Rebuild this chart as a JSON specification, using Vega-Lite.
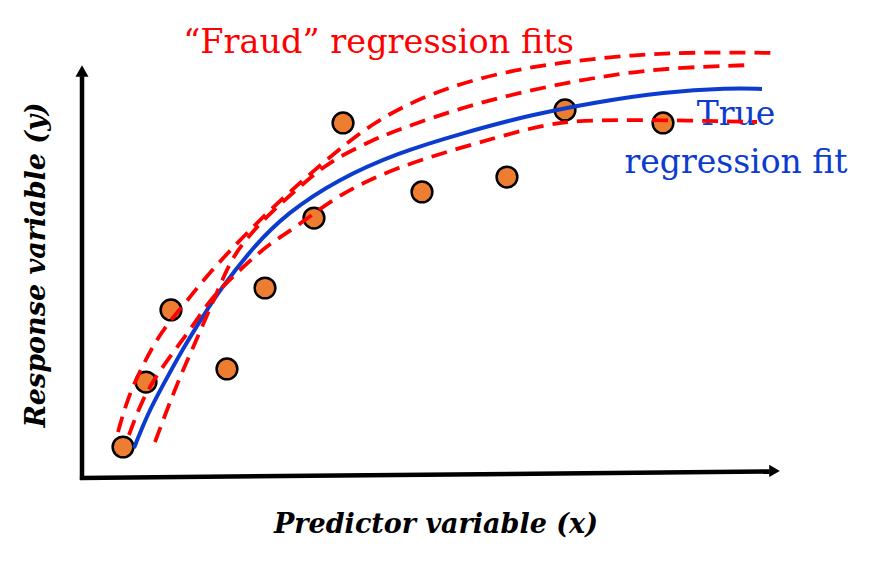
{
  "$schema": "https://vega.github.io/schema/vega-lite/v6.json",
  "width": 875,
  "height": 566,
  "autosize": {"type": "fit", "contains": "padding"},
  "padding": 0,
  "background": "white",
  "config": {"view": {"stroke": null}},
  "datasets": {
    "axes": [
      {"x": 0, "y": -0.05, "x2": 0, "y2": 9.8},
      {"x": -0.03, "y": 0, "x2": 9.82, "y2": 0.16}
    ],
    "arrows": [
      {"dir": "up", "x": 0, "y": 9.927},
      {"dir": "right", "x": 9.893, "y": 0.171}
    ],
    "points": [
      {"x": 0.586, "y": 0.756},
      {"x": 0.914, "y": 2.341},
      {"x": 1.271, "y": 4.098},
      {"x": 2.071, "y": 2.659},
      {"x": 2.614, "y": 4.634},
      {"x": 3.314, "y": 6.341},
      {"x": 3.729, "y": 8.659},
      {"x": 4.857, "y": 6.976},
      {"x": 6.071, "y": 7.341},
      {"x": 6.9, "y": 8.976},
      {"x": 8.3, "y": 8.659}
    ],
    "truefit": [
      {"x": 0.743, "y": 0.732},
      {"x": 0.943, "y": 1.585},
      {"x": 1.143, "y": 2.22},
      {"x": 1.429, "y": 3.122},
      {"x": 1.757, "y": 4.024},
      {"x": 1.971, "y": 4.585},
      {"x": 2.443, "y": 5.634},
      {"x": 2.929, "y": 6.463},
      {"x": 3.643, "y": 7.27},
      {"x": 4.5, "y": 7.927},
      {"x": 5.443, "y": 8.415},
      {"x": 6.4, "y": 8.854},
      {"x": 7.357, "y": 9.171},
      {"x": 8.3, "y": 9.415},
      {"x": 9.257, "y": 9.512},
      {"x": 9.714, "y": 9.488}
    ],
    "fraud": [
      {"fit": "A", "x": 0.514, "y": 1.122},
      {"fit": "A", "x": 0.657, "y": 1.976},
      {"fit": "A", "x": 0.857, "y": 2.707},
      {"fit": "A", "x": 1.043, "y": 3.317},
      {"fit": "A", "x": 1.286, "y": 3.902},
      {"fit": "A", "x": 1.514, "y": 4.341},
      {"fit": "A", "x": 1.729, "y": 4.829},
      {"fit": "A", "x": 2.214, "y": 5.732},
      {"fit": "A", "x": 2.686, "y": 6.537},
      {"fit": "A", "x": 3.157, "y": 7.268},
      {"fit": "A", "x": 3.543, "y": 7.829},
      {"fit": "A", "x": 4.157, "y": 8.683},
      {"fit": "A", "x": 4.971, "y": 9.39},
      {"fit": "A", "x": 5.929, "y": 9.878},
      {"fit": "A", "x": 6.871, "y": 10.146},
      {"fit": "A", "x": 7.829, "y": 10.317},
      {"fit": "A", "x": 8.786, "y": 10.39},
      {"fit": "A", "x": 9.943, "y": 10.366},
      {"fit": "B", "x": 1.043, "y": 0.878},
      {"fit": "B", "x": 1.229, "y": 1.732},
      {"fit": "B", "x": 1.4, "y": 2.463},
      {"fit": "B", "x": 1.571, "y": 3.122},
      {"fit": "B", "x": 1.757, "y": 3.854},
      {"fit": "B", "x": 1.943, "y": 4.585},
      {"fit": "B", "x": 2.114, "y": 5.268},
      {"fit": "B", "x": 2.329, "y": 5.805},
      {"fit": "B", "x": 2.686, "y": 6.463},
      {"fit": "B", "x": 3.157, "y": 7.171},
      {"fit": "B", "x": 3.543, "y": 7.732},
      {"fit": "B", "x": 4.157, "y": 8.244},
      {"fit": "B", "x": 4.5, "y": 8.488},
      {"fit": "B", "x": 5.443, "y": 9.049},
      {"fit": "B", "x": 6.4, "y": 9.463},
      {"fit": "B", "x": 7.357, "y": 9.78},
      {"fit": "B", "x": 8.3, "y": 10.0},
      {"fit": "B", "x": 9.571, "y": 10.073},
      {"fit": "C", "x": 0.671, "y": 1.049},
      {"fit": "C", "x": 0.857, "y": 1.902},
      {"fit": "C", "x": 1.086, "y": 2.561},
      {"fit": "C", "x": 1.329, "y": 3.122},
      {"fit": "C", "x": 1.571, "y": 3.683},
      {"fit": "C", "x": 1.8, "y": 4.268},
      {"fit": "C", "x": 2.0, "y": 4.659},
      {"fit": "C", "x": 2.3, "y": 5.146},
      {"fit": "C", "x": 2.686, "y": 5.732},
      {"fit": "C", "x": 3.071, "y": 6.122},
      {"fit": "C", "x": 3.643, "y": 6.902},
      {"fit": "C", "x": 4.5, "y": 7.585},
      {"fit": "C", "x": 5.443, "y": 8.073},
      {"fit": "C", "x": 6.4, "y": 8.537},
      {"fit": "C", "x": 6.871, "y": 8.683},
      {"fit": "C", "x": 7.357, "y": 8.732},
      {"fit": "C", "x": 8.3, "y": 8.732},
      {"fit": "C", "x": 9.643, "y": 8.683}
    ]
  },
  "encoding": {
    "x": {"field": "x", "type": "quantitative", "axis": null, "scale": {"domain": [-1.171429, 11.328571], "nice": false, "zero": false}},
    "y": {"field": "y", "type": "quantitative", "axis": null, "scale": {"domain": [-2.146341, 11.658537], "nice": false, "zero": false}}
  },
  "layer": [
    {
      "data": {"name": "axes"},
      "mark": {"type": "rule", "color": "black", "strokeWidth": 4.5},
      "encoding": {
        "x2": {"field": "x2"},
        "y2": {"field": "y2"}
      }
    },
    {
      "data": {"name": "arrows"},
      "transform": [{"filter": "datum.dir === 'up'"}],
      "mark": {"type": "point", "shape": "triangle-up", "filled": true, "color": "black", "opacity": 1, "size": 170}
    },
    {
      "data": {"name": "arrows"},
      "transform": [{"filter": "datum.dir === 'right'"}],
      "mark": {"type": "point", "shape": "triangle-right", "filled": true, "color": "black", "opacity": 1, "size": 150}
    },
    {
      "data": {"name": "points"},
      "mark": {"type": "circle", "size": 430, "fill": "#ED7D31", "stroke": "black", "strokeWidth": 2.5, "opacity": 1}
    },
    {
      "data": {"values": [{"label": "“Fraud” regression fits", "x": 4.236, "y": 10.366}]},
      "mark": {"type": "text", "font": "DejaVu Serif", "fontSize": 33.5, "color": "#FF0000", "align": "center", "baseline": "alphabetic"},
      "encoding": {"text": {"field": "label"}}
    },
    {
      "data": {"values": [{"label": "True", "x": 9.343, "y": 8.61}, {"label": "regression fit", "x": 9.343, "y": 7.439}]},
      "mark": {"type": "text", "font": "DejaVu Serif", "fontSize": 33, "color": "#0B3CCF", "align": "center", "baseline": "alphabetic"},
      "encoding": {"text": {"field": "label"}}
    },
    {
      "data": {"values": [{"label": "Predictor variable (x)", "x": 5.057, "y": -1.341}]},
      "mark": {"type": "text", "font": "DejaVu Serif", "fontSize": 27, "fontWeight": "bold", "fontStyle": "italic", "color": "black", "align": "center", "baseline": "alphabetic"},
      "encoding": {"text": {"field": "label"}}
    },
    {
      "data": {"values": [{"label": "Response variable (y)", "x": -0.529, "y": 5.195}]},
      "mark": {"type": "text", "font": "DejaVu Serif", "fontSize": 27, "fontWeight": "bold", "fontStyle": "italic", "color": "black", "align": "center", "baseline": "alphabetic", "angle": 270},
      "encoding": {"text": {"field": "label"}}
    },
    {
      "data": {"name": "truefit"},
      "mark": {"type": "line", "color": "#0B3CCF", "strokeWidth": 4, "interpolate": "basis"}
    },
    {
      "data": {"name": "fraud"},
      "mark": {"type": "line", "color": "#FF0000", "strokeWidth": 3.8, "strokeDash": [16, 9], "interpolate": "basis"},
      "encoding": {"detail": {"field": "fit"}}
    }
  ]
}
